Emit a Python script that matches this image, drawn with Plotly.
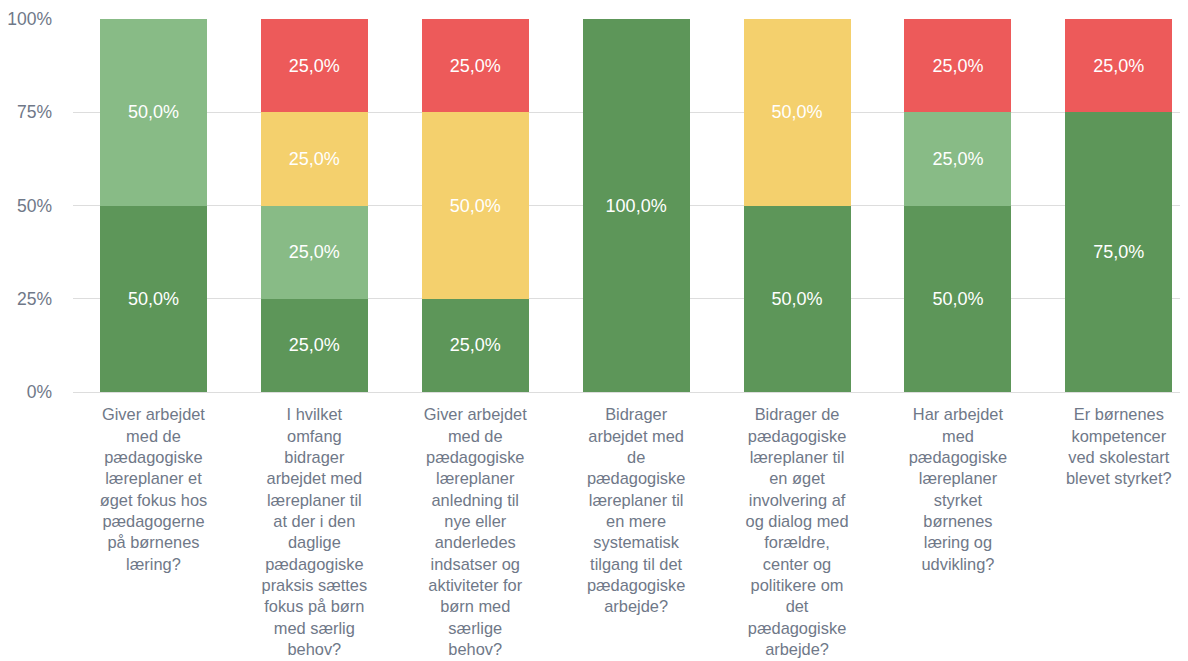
import plotly.graph_objects as go

categories = [
    "Giver arbejdet<br>med de<br>pædagogiske<br>læreplaner et<br>øget fokus hos<br>pædagogerne<br>på børnenes<br>læring?",
    "I hvilket<br>omfang<br>bidrager<br>arbejdet med<br>læreplaner til<br>at der i den<br>daglige<br>pædagogiske<br>praksis sættes<br>fokus på børn<br>med særlig<br>behov?",
    "Giver arbejdet<br>med de<br>pædagogiske<br>læreplaner<br>anledning til<br>nye eller<br>anderledes<br>indsatser og<br>aktiviteter for<br>børn med<br>særlige<br>behov?",
    "Bidrager<br>arbejdet med<br>de<br>pædagogiske<br>læreplaner til<br>en mere<br>systematisk<br>tilgang til det<br>pædagogiske<br>arbejde?",
    "Bidrager de<br>pædagogiske<br>læreplaner til<br>en øget<br>involvering af<br>og dialog med<br>forældre,<br>center og<br>politikere om<br>det<br>pædagogiske<br>arbejde?",
    "Har arbejdet<br>med<br>pædagogiske<br>læreplaner<br>styrket<br>børnenes<br>læring og<br>udvikling?",
    "Er børnenes<br>kompetencer<br>ved skolestart<br>blevet styrket?",
]

dark_green = [50, 25, 25, 100, 50, 50, 75]
light_green = [50, 25, 0, 0, 0, 25, 0]
yellow = [0, 25, 50, 0, 50, 0, 0]
red = [0, 25, 25, 0, 0, 25, 25]

y_ticks = [0, 25, 50, 75, 100]
y_tick_labels = ["0%", "25%", "50%", "75%", "100%"]

series = [
    ("Dark green", dark_green, "#5d9659"),
    ("Light green", light_green, "#88bb86"),
    ("Yellow", yellow, "#f4d06d"),
    ("Red", red, "#ed5a5a"),
]

def fmt(v):
    return (f"{v:.1f}".replace(".", ",") + "%") if v else ""

FONT = "Liberation Sans, Arial"
GREY = "#6f7888"

fig = go.Figure()
for name, vals, color in series:
    fig.add_trace(go.Bar(
        x=categories, y=vals, name=name,
        marker=dict(color=color, line=dict(width=0)),
        text=[fmt(v) for v in vals],
        textposition="inside", insidetextanchor="middle", textangle=0,
        constraintext="none",
        textfont=dict(family=FONT, size=18, color="#ffffff"),
        hoverinfo="skip",
    ))

fig.update_layout(
    barmode="stack",
    bargap=0.335,
    width=1180, height=653,
    margin=dict(l=65, r=0, t=11, b=269),
    paper_bgcolor="white", plot_bgcolor="white",
    showlegend=False,
    font=dict(family=FONT, size=16, color=GREY),
    uniformtext=dict(minsize=18, mode="show"),
)
fig.update_xaxes(
    range=[-0.5, 6.43],
    tickangle=0, showgrid=False, showline=False, zeroline=False,
    tickfont=dict(family=FONT, size=16.4, color=GREY),
    ticklabelstandoff=11,
    automargin=False,
)
fig.update_yaxes(
    range=[0, 100], tickvals=y_ticks, ticktext=y_tick_labels,
    showgrid=True, gridcolor="#dddddd", gridwidth=1,
    zeroline=True, zerolinecolor="#dddddd", zerolinewidth=1,
    showline=False, ticks="", ticklabelstandoff=20,
    tickfont=dict(family=FONT, size=17.5, color=GREY),
    automargin=False,
)

fig.write_html("out.html")
